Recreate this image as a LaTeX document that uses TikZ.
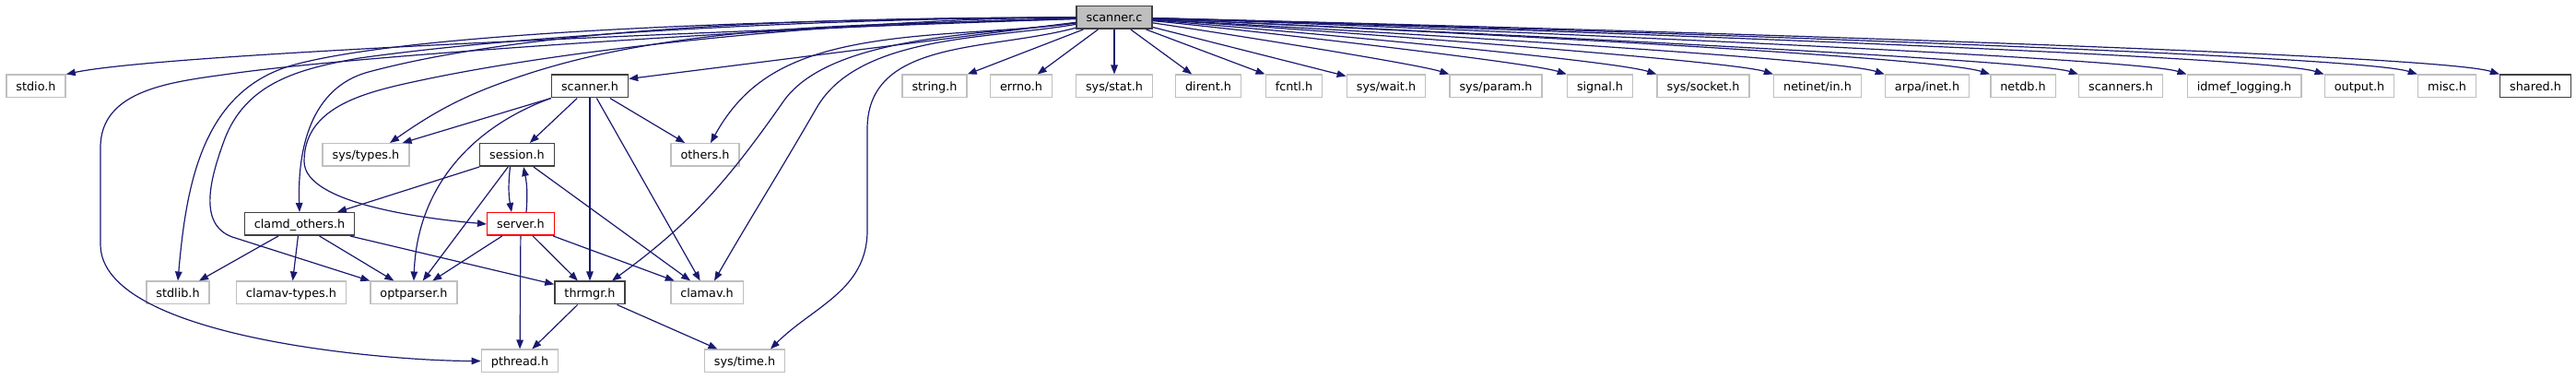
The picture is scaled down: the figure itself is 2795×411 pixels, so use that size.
\documentclass[tikz,border=0pt]{standalone}
\usepackage{fontspec}
\setmainfont{DejaVu Sans}
\usetikzlibrary{arrows.meta}
\definecolor{edgenavy}{RGB}{25,25,112}
\definecolor{boxgrey}{RGB}{191,191,191}
\definecolor{docgrey}{RGB}{64,64,64}
\begin{document}
\begin{tikzpicture}[x=0.2pt, y=0.2pt, every node/.style={font=\fontsize{2.56}{3}\selectfont}]
\tikzset{hdr/.style={draw=boxgrey,line width=0.3pt,fill=white,minimum height=4.9pt,inner xsep=2.1pt,inner ysep=0pt,text height=2pt,text depth=0pt},
doc/.style={hdr,draw=docgrey},
inc/.style={-{Triangle[length=2pt,width=1.5pt]},draw=edgenavy,line width=0.24pt}}
\useasboundingbox (0,0) rectangle (2795,-411);
\node[doc,fill=boxgrey] (sc) at (1209,-19) {scanner.c};
\node[hdr] (stdio) at (39,-93.5) {stdio.h};
\node[doc] (sch) at (640,-93.5) {scanner.h};
\node[hdr] (string) at (1014,-93.5) {string.h};
\node[hdr] (errno) at (1108,-93.5) {errno.h};
\node[hdr] (sysstat) at (1209,-93.5) {sys/stat.h};
\node[hdr] (dirent) at (1311,-93.5) {dirent.h};
\node[hdr] (fcntl) at (1404,-93.5) {fcntl.h};
\node[hdr] (syswait) at (1504,-93.5) {sys/wait.h};
\node[hdr] (sysparam) at (1623,-93.5) {sys/param.h};
\node[hdr] (signal) at (1736,-93.5) {signal.h};
\node[hdr] (syssocket) at (1848,-93.5) {sys/socket.h};
\node[hdr] (netinet) at (1972,-93.5) {netinet/in.h};
\node[hdr] (arpainet) at (2091,-93.5) {arpa/inet.h};
\node[hdr] (netdb) at (2195,-93.5) {netdb.h};
\node[hdr] (scanners) at (2301,-93.5) {scanners.h};
\node[hdr] (idmef) at (2435,-93.5) {idmef\_logging.h};
\node[hdr] (output) at (2560,-93.5) {output.h};
\node[hdr] (misc) at (2655,-93.5) {misc.h};
\node[doc] (shared) at (2751,-93.5) {shared.h};
\node[hdr] (systypes) at (397,-168) {sys/types.h};
\node[doc] (session) at (561,-168) {session.h};
\node[hdr] (others) at (765,-168) {others.h};
\node[doc] (clamdothers) at (325,-243) {clamd\_others.h};
\node[hdr,draw=red] (server) at (565,-243) {server.h};
\node[hdr] (stdlib) at (193,-317.5) {stdlib.h};
\node[hdr] (clamavtypes) at (316,-317.5) {clamav-types.h};
\node[hdr] (optparser) at (449,-317.5) {optparser.h};
\node[doc] (thrmgr) at (640,-317.5) {thrmgr.h};
\node[hdr] (clamav) at (767,-317.5) {clamav.h};
\node[hdr] (pthread) at (564,-391.5) {pthread.h};
\node[hdr] (systime) at (808,-391.5) {sys/time.h};
\draw[inc] (sc) to[out=182,in=12,looseness=0.3] (stdio.north east);
\draw[inc] (sc) -- ([shift={(0,-5)}]sch.north east);
\draw[inc] (sc) -- (string.north east);
\draw[inc] (sc) -- (errno);
\draw[inc] (sc) -- (sysstat);
\draw[inc] (sc) -- (dirent);
\draw[inc] (sc) -- (fcntl.north west);
\draw[inc] (sc) -- (syswait);
\draw[inc] (sc) to[out=-8,in=162,looseness=0.3] (sysparam.north west);
\draw[inc] (sc) to[out=-5,in=162,looseness=0.25] (signal.north west);
\draw[inc] (sc) to[out=-4,in=162,looseness=0.25] (syssocket.north west);
\draw[inc] (sc) to[out=-3,in=162,looseness=0.2] (netinet.north west);
\draw[inc] (sc) to[out=-3,in=162,looseness=0.2] (arpainet.north west);
\draw[inc] (sc) to[out=-2,in=162,looseness=0.2] (netdb.north west);
\draw[inc] (sc) to[out=-2,in=162,looseness=0.15] (scanners.north west);
\draw[inc] (sc) to[out=-1,in=162,looseness=0.15] (idmef.north west);
\draw[inc] (sc) to[out=-1,in=162,looseness=0.15] (output.north west);
\draw[inc] (sc) to[out=-1,in=162,looseness=0.15] (misc.north west);
\draw[inc] (sc) to[out=-1,in=162,looseness=0.15] (shared.north west);
\draw[inc] (sc) to[out=181,in=8,looseness=0.5] (250,-80) to[out=188,in=90] (109,-160) -- (109,-265) to[out=-90,in=180,looseness=0.6] (pthread.west);
\draw[inc] (sc) to[out=180,in=15,looseness=0.5] (320,-70) to[out=195,in=85] (stdlib.north);
\draw[inc] (sc) to[out=180,in=8,looseness=0.7] (390,-63) to[out=190,in=70] (243,-153) to[out=250,in=160] (252,-257) -- (optparser.north west);
\draw[inc] (sc) to[out=180,in=15,looseness=0.7] (400,-78) to[out=195,in=92] (clamdothers.north);
\draw[inc] (sc) to[out=180,in=12,looseness=0.7] (457,-87) to[out=192,in=90] (330,-175) to[out=-90,in=175,looseness=0.6] (server.west);
\draw[inc] (sc) to[out=182,in=18,looseness=0.8] (573,-80) to[out=198,in=35] ([shift={(26,0)}]systypes.north);
\draw[inc] (sc) to[out=188,in=15,looseness=0.8] (900,-55) to[out=195,in=61] ([shift={(6,0)}]others.north);
\draw[inc] (sc) to[out=188,in=55,looseness=0.7] (850,-110) to[out=235,in=36] ([shift={(24,0)}]thrmgr.north);
\draw[inc] (sc) to[out=190,in=60,looseness=0.8] (886,-117) to[out=240,in=60] ([shift={(8,0)}]clamav.north);
\draw[inc] (sc) to[out=195,in=90] (941,-140) -- (941,-250) to[out=-90,in=45] ([shift={(28,0)}]systime.north);
\draw[inc] (sch.south west) -- ([shift={(-8,0)}]systypes.north east);
\draw[inc] (sch.south west) to[out=200,in=88] (optparser.north);
\draw[inc] (sch) -- (session);
\draw[inc] (sch) -- (thrmgr);
\draw[inc] (sch) -- (clamav);
\draw[inc] (sch) -- (others);
\draw[inc] (session) -- (clamdothers);
\draw[inc] ([shift={(-7.5,0)}]session.south) to[bend right=8] ([shift={(-10,0)}]server.north);
\draw[inc] ([shift={(6,0)}]server.north) to[bend right=8] ([shift={(7,0)}]session.south);
\draw[inc] (session) -- (optparser);
\draw[inc] (session) -- (clamav);
\draw[inc] (server) -- (optparser);
\draw[inc] (server) -- (thrmgr);
\draw[inc] (server) -- (clamav);
\draw[inc] (server) -- (pthread);
\draw[inc] (clamdothers) -- (stdlib);
\draw[inc] (clamdothers) -- (clamavtypes);
\draw[inc] (clamdothers) -- (optparser);
\draw[inc] (clamdothers) -- (thrmgr);
\draw[inc] (thrmgr) -- (pthread);
\draw[inc] (thrmgr) -- (systime);
\end{tikzpicture}
\end{document}
